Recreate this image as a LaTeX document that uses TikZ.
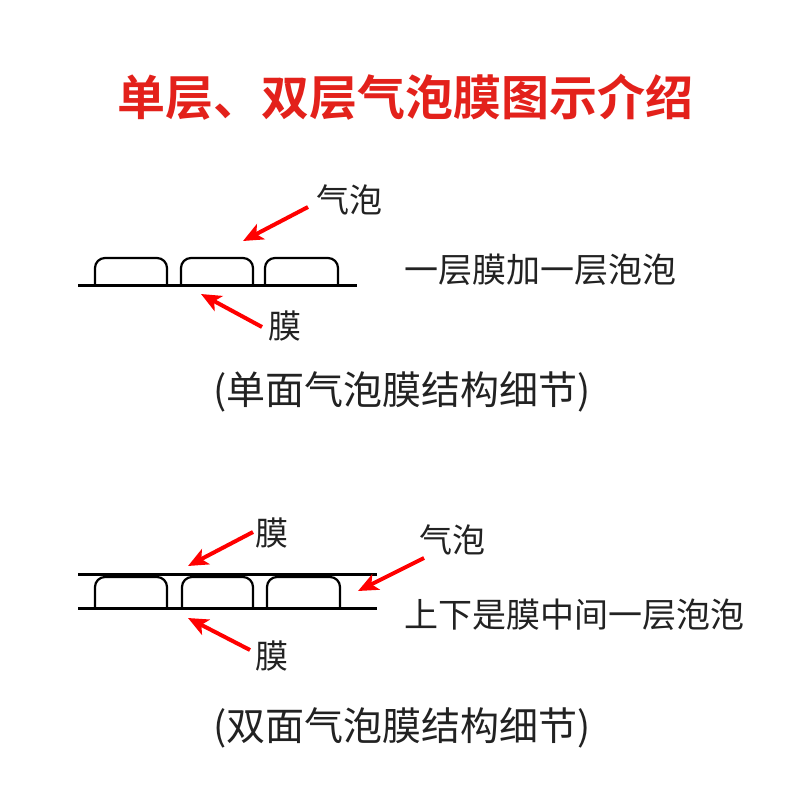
\documentclass[tikz,border=0pt]{standalone}
\usepackage{fontspec}
\setmainfont{Noto Sans CJK SC}[BoldFont={Noto Sans CJK SC Bold}]
\usetikzlibrary{arrows.meta}
\definecolor{titlered}{HTML}{E3211B}
\definecolor{txt}{HTML}{222222}
\tikzset{
  film/.style={line width=3pt, black},
  bubble/.style={line width=2.2pt, black, rounded corners=10pt},
  redarrow/.style={draw=red, line width=4pt, -{Stealth[length=20pt, width=17pt, inset=5pt]}},
  lbl/.style={font=\fontsize{33}{36}\selectfont, text=txt, inner sep=0pt},
  desc/.style={font=\fontsize{34}{37}\selectfont, text=txt, inner sep=0pt, anchor=west},
  capt/.style={font=\fontsize{39}{41}\selectfont, text=txt, inner sep=0pt},
}
\begin{document}
\begin{tikzpicture}[x=1pt, y=-1pt]
\useasboundingbox (0,0) rectangle (800,800);
\fill[white] (0,0) rectangle (800,800);
% title
\node[font=\fontsize{48}{50}\selectfont\bfseries, text=titlered, inner sep=0pt] (title) at (405,97) {单层、双层气泡膜图示介绍};

% single layer
\draw[film] (78,285.5) -- (357,285.5);
\foreach \a/\b in {95/167, 181/253, 265/338}
  \draw[bubble] (\a,285.5) -- (\a,258) -- (\b,258) -- (\b,285.5);
\node[lbl] (q1) at (349,200) {气泡};
\node[lbl] (m1) at (285,326) {膜};
\node[desc] (d1) at (404,270) {一层膜加一层泡泡};
\node[capt] (c1) at (402,392) {(单面气泡膜结构细节)};
\coordinate (q1t) at (308,207);
\coordinate (q1h) at (243,241);
\coordinate (m1t) at (262,327);
\coordinate (m1h) at (201,294);
\draw[redarrow] (q1t) -- (q1h);
\draw[redarrow] (m1t) -- (m1h);

% double layer
\draw[film] (78,574.5) -- (377,574.5);
\draw[film] (78,608.5) -- (377,608.5);
\foreach \a/\b in {95/167, 182/253, 267/340}
  \draw[bubble] (\a,608.5) -- (\a,577) -- (\b,577) -- (\b,608.5);
\node[lbl] (m2) at (272,533) {膜};
\node[lbl] (m3) at (272,656) {膜};
\node[lbl] (q2) at (452,540) {气泡};
\node[desc] (d2) at (404,615) {上下是膜中间一层泡泡};
\node[capt] (c2) at (402,728) {(双面气泡膜结构细节)};
\coordinate (m2t) at (253,532);
\coordinate (m2h) at (188,566);
\coordinate (m3t) at (250,650);
\coordinate (m3h) at (188,618);
\coordinate (q2t) at (424,558);
\coordinate (q2h) at (358,591);
\draw[redarrow] (m2t) -- (m2h);
\draw[redarrow] (m3t) -- (m3h);
\draw[redarrow] (q2t) -- (q2h);
\end{tikzpicture}
\end{document}
